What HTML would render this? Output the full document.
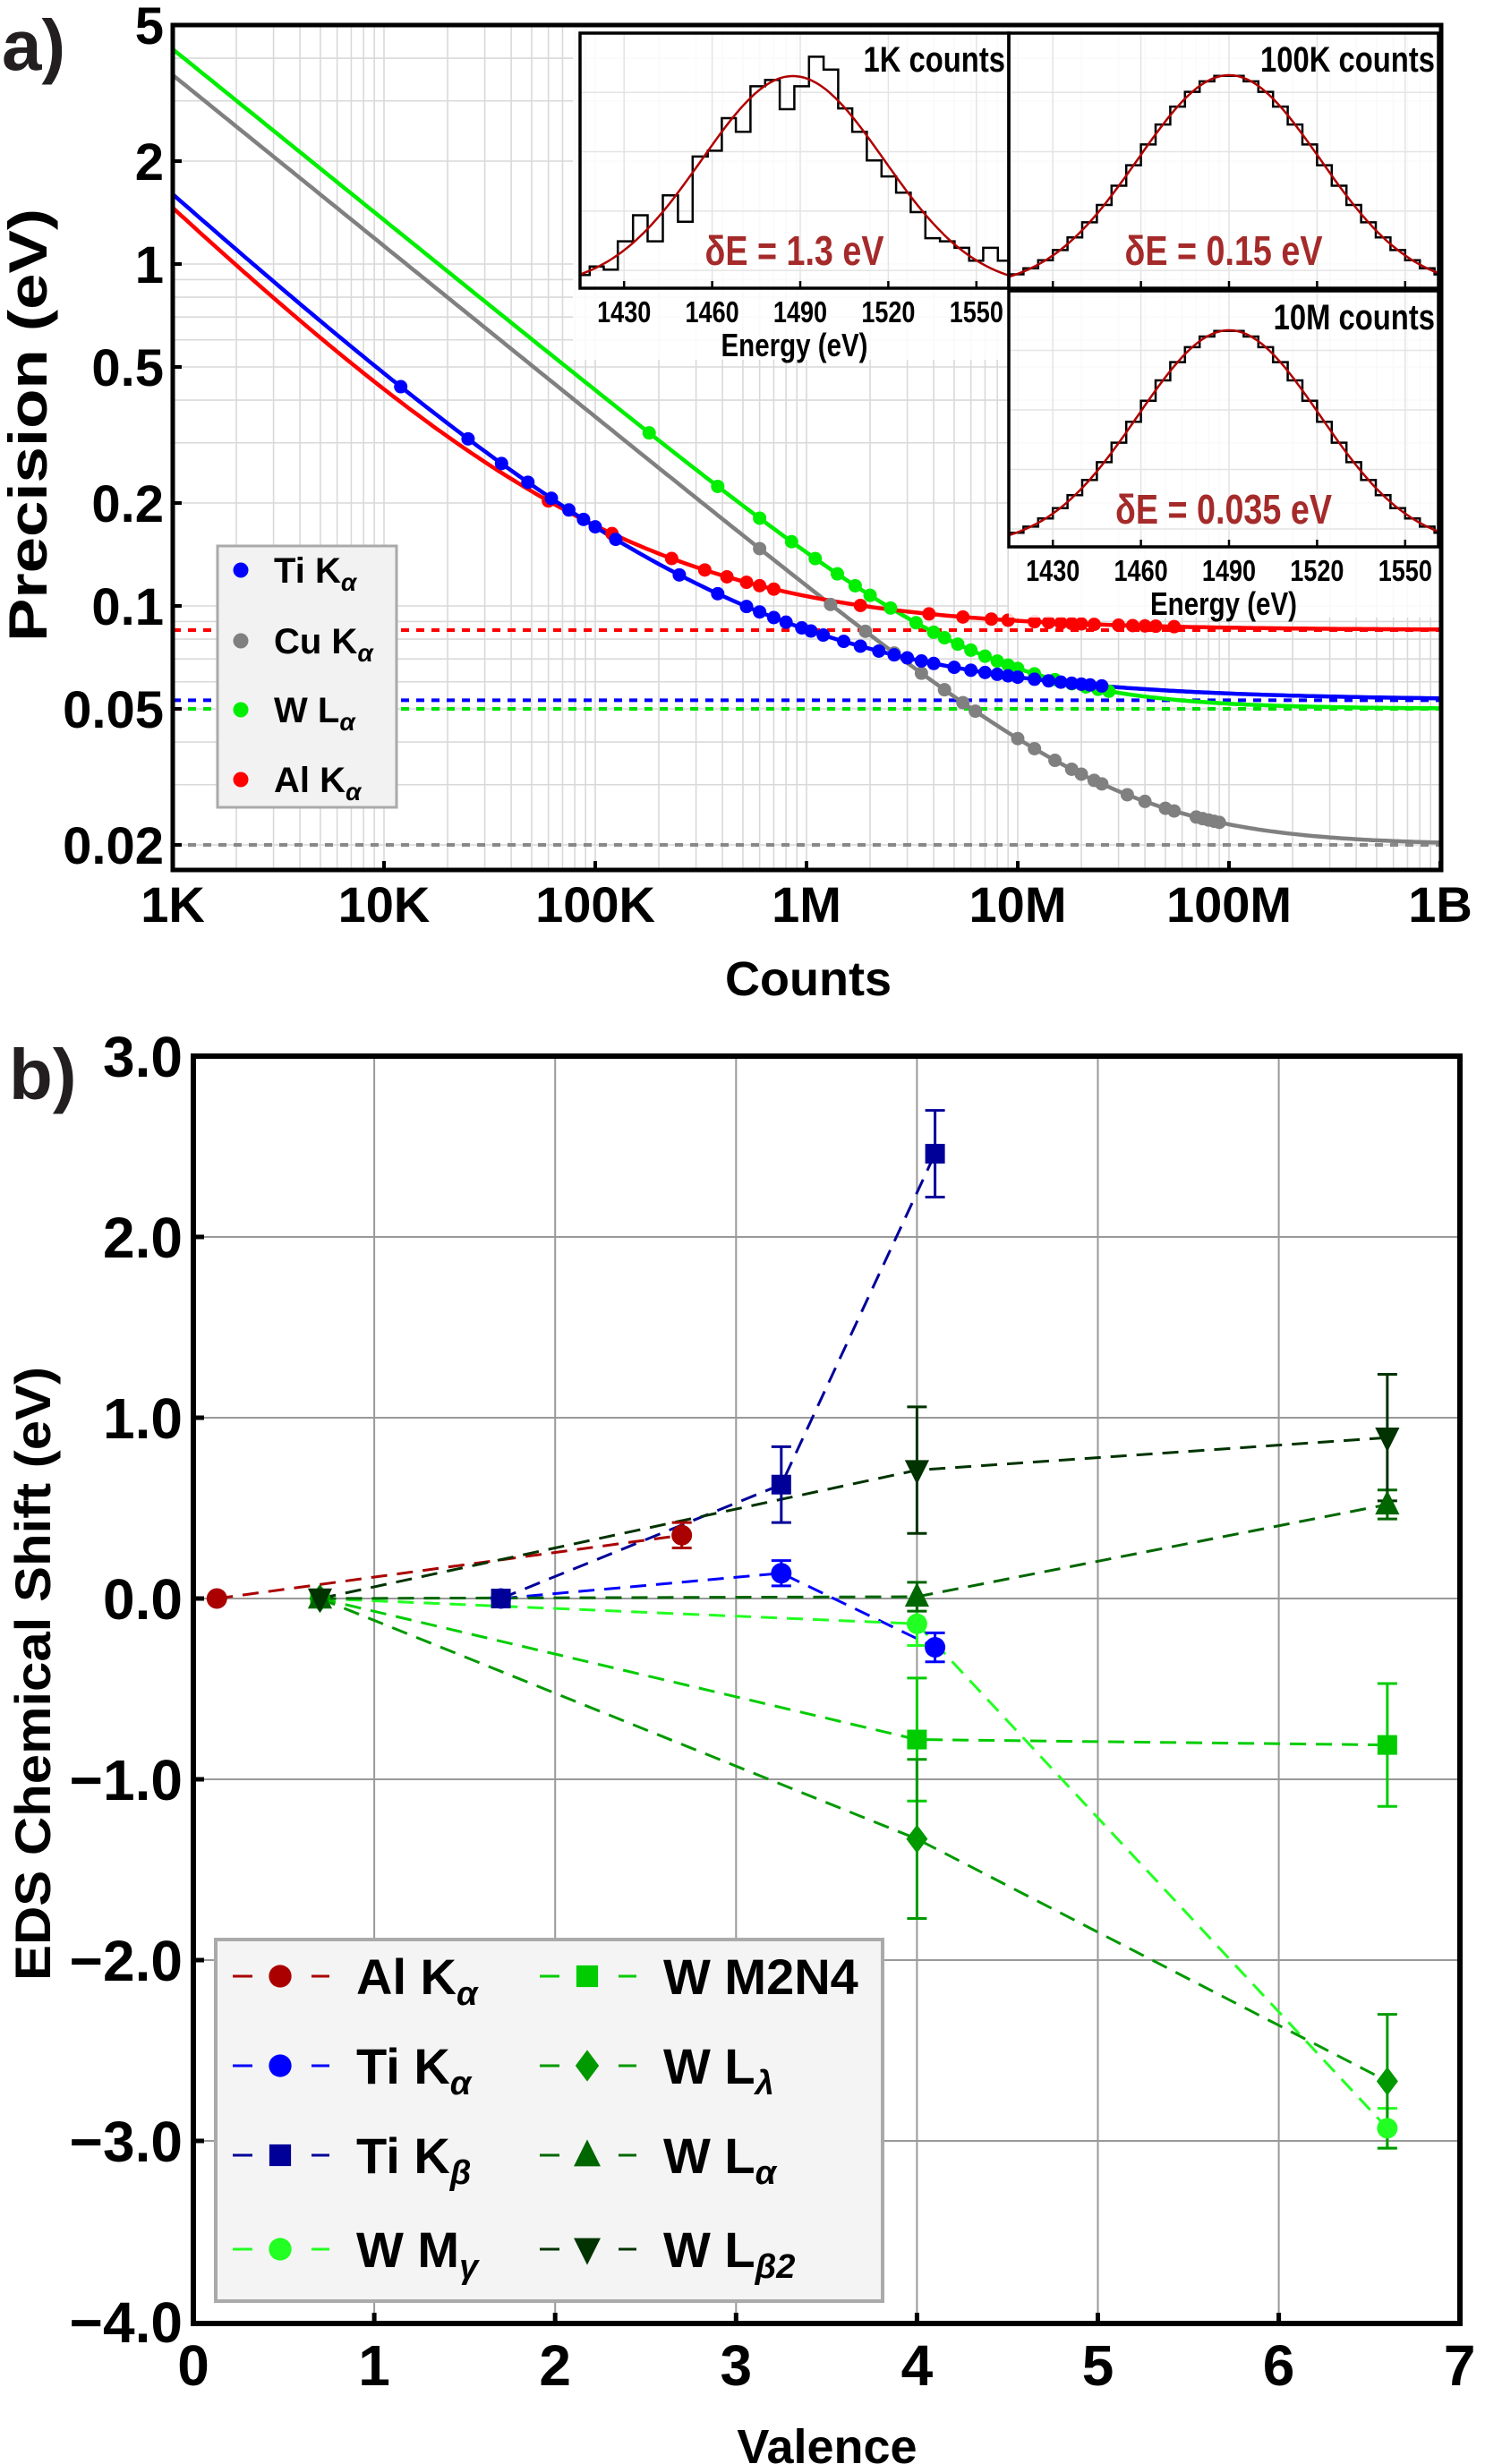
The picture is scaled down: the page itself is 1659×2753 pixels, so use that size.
<!DOCTYPE html>
<html><head><meta charset="utf-8">
<style>
html,body{margin:0;padding:0;background:#fff;}
svg{display:block;}
text{font-family:"Liberation Sans",sans-serif;font-weight:bold;}
</style></head>
<body>
<svg id="s" xmlns="http://www.w3.org/2000/svg" width="1659" height="2753" viewBox="0 0 1659 2753">
<rect width="1659" height="2753" fill="#fff"/>
<defs>
<clipPath id="ca"><rect x="193" y="28" width="1417" height="944"/></clipPath>
<clipPath id="cb"><rect x="216" y="1180" width="1415" height="1416"/></clipPath>
</defs>
<g id="a"></g>
<g id="b"></g>
<text x="2" y="78" font-size="80" fill="#231f20">a)</text>
<text x="10" y="1228" font-size="80" fill="#231f20">b)</text>
<text transform="translate(52,475) rotate(-90)" text-anchor="middle" font-size="60" textLength="484" lengthAdjust="spacingAndGlyphs">Precision (eV)</text>
<text x="903" y="1112" text-anchor="middle" font-size="54">Counts</text>
<text transform="translate(56,1870) rotate(-90)" text-anchor="middle" font-size="56" textLength="686" lengthAdjust="spacingAndGlyphs">EDS Chemical Shift (eV)</text>
<text x="924" y="2752" text-anchor="middle" font-size="54">Valence</text>
</svg>
<script>
var NS="http://www.w3.org/2000/svg";
function E(t,a,p,txt){var e=document.createElementNS(NS,t);for(var k in a)e.setAttribute(k,a[k]);if(txt!==undefined)e.textContent=txt;(p||document.getElementById('s')).appendChild(e);return e;}
var A=document.getElementById('a'),B=document.getElementById('b');
function lg(v){return Math.log(v)/Math.LN10;}
/* ---------- Panel a ---------- */
function X(N){return 193+236*lg(N/1000);}
function Y(P){return 295-382*lg(P);}
var ga=E('g',{'clip-path':'url(#ca)'},A);
for(var d=3;d<=8;d++)for(var m=1;m<=9;m++){var N=m*Math.pow(10,d);var x=X(N);E('line',{x1:x,y1:28,x2:x,y2:972,stroke:'#d9d9d9','stroke-width':1.6},ga);}
[0.01,0.1,1].forEach(function(b){for(var m=1;m<=9;m++){var P=m*b;if(P>5.01)continue;var y=Y(P);E('line',{x1:193,y1:y,x2:1610,y2:y,stroke:'#d9d9d9','stroke-width':1.6},ga);}});
function Ti(N){return 1.547*Math.pow(N/1000,-0.56)+0.053;}
function Al(N){return 1.375*Math.pow(N/1000,-0.6)+0.085;}
function Cu(N){var a=3.57*Math.pow(N/1000,-0.5);return Math.sqrt(a*a+0.0004);}
function W(N){var a=4.25*Math.pow(N/1000,-0.5);return Math.sqrt(a*a+0.0025);}
var hl=[[0.085,'#ff0000'],[0.053,'#0000ff'],[0.050,'#00e000'],[0.02,'#888888']];
hl.forEach(function(h){E('line',{x1:193,y1:Y(h[0]),x2:1610,y2:Y(h[0]),stroke:h[1],'stroke-width':4,'stroke-dasharray':'9,8'},ga);});
function curve(f,c){var s='';for(var i=0;i<=300;i++){var N=1000*Math.pow(10,6*i/300);s+=(i?'L':'M')+X(N).toFixed(1)+','+Y(f(N)).toFixed(1);}E('path',{d:s,fill:'none',stroke:c,'stroke-width':4.5},ga);}
curve(Cu,'#808080');curve(W,'#00ee00');curve(Al,'#ff0000');curve(Ti,'#0000ff');
function pts(f,c,L){L.forEach(function(N){E('circle',{cx:X(N),cy:Y(f(N)),r:7.5,fill:c},ga);});}
pts(Cu,'#808080',[6e5,1.3e6,1.9e6,2.6e6,3.5e6,4.5e6,5.5e6,6.3e6,1e7,1.2e7,1.5e7,1.8e7,2e7,2.3e7,2.5e7,3.3e7,4e7,5e7,5.5e7,7e7,7.5e7,8e7,8.5e7,9e7]);
pts(W,'#00ee00',[1.8e5,3.8e5,6e5,8.5e5,1.1e6,1.4e6,1.7e6,2e6,2.5e6,3.3e6,4e6,4.5e6,5.2e6,6e6,7e6,8e6,9e6,1e7,1.2e7,1.5e7,1.8e7,2.1e7,2.4e7,2.7e7]);
pts(Al,'#ff0000',[6e4,1.2e5,2.3e5,3.3e5,4.2e5,5.2e5,6e5,7e5,1.8e6,3.8e6,5.5e6,7.5e6,9e6,1.2e7,1.4e7,1.6e7,1.8e7,2e7,2.3e7,3e7,3.5e7,4e7,4.5e7,5.5e7]);
pts(Ti,'#0000ff',[1.2e4,2.5e4,3.6e4,4.8e4,6.2e4,7.5e4,8.8e4,1e5,1.25e5,2.5e5,3.8e5,5.2e5,6e5,7e5,8e5,9.5e5,1.05e6,1.2e6,1.5e6,1.8e6,2.2e6,2.6e6,3e6,3.5e6,4e6,5e6,6e6,7e6,8e6,9e6,1e7,1.2e7,1.4e7,1.6e7,1.8e7,2e7,2.2e7,2.5e7]);
/* inset background */
E('path',{d:'M640,30 H1610 V690 H1127 V402 H640 Z',fill:'#fff','fill-opacity':0.85},A);
function sx(x){return 'translate('+x+',0) scale(0.82,1) translate('+(-x)+',0)';}
function inset(x0,y0,w,h,peak,mu,hist,lab,de,showAxis){
  var ex=function(e){return x0+(e-1415)*3.28;};
  var gi=E('g',{},A);
  [1430,1460,1490,1520,1550].forEach(function(e){E('line',{x1:ex(e),y1:y0,x2:ex(e),y2:y0+h,stroke:'#e4e4e4','stroke-width':1.5},gi);});
  for(var k=1;k<5;k++){var yy=y0+h*k/4.3;E('line',{x1:x0,y1:yy,x2:x0+w,y2:yy,stroke:'#e4e4e4','stroke-width':1.5},gi);}
  var bot=y0+h,H=bot-peak;
  var g=function(e){return bot-H*Math.exp(-(e-mu)*(e-mu)/(2*31*31));};
  var s='';
  if(hist){s=hist;}else{
    for(var e=1415;e<1561;e+=5){var v=g(e+2.5);var xa=ex(e),xb=Math.min(ex(e+5),x0+w);s+=(e==1415?'M'+xa+','+v:'V'+v.toFixed(1))+'H'+xb.toFixed(1);}
  }
  E('path',{d:s,fill:'none',stroke:'#000','stroke-width':2.5},gi);
  var c='';for(var i=0;i<=200;i++){var e2=1415+146*i/200;c+=(i?'L':'M')+ex(e2).toFixed(1)+','+g(e2).toFixed(1);}
  E('path',{d:c,fill:'none',stroke:'#b00000','stroke-width':2.5},gi);
  [1430,1460,1490,1520,1550].forEach(function(e){E('line',{x1:ex(e),y1:bot,x2:ex(e),y2:bot-8,stroke:'#000','stroke-width':2.5},gi);
    if(showAxis)E('text',{x:ex(e),y:bot+38,'text-anchor':'middle','font-size':33,transform:sx(ex(e))},gi,String(e));});
  E('rect',{x:x0,y:y0,width:w,height:h,fill:'none',stroke:'#000','stroke-width':3.5},gi);
  var tx=x0+w-4;E('text',{x:tx,y:y0+43,'text-anchor':'end','font-size':40,transform:sx(tx)},gi,lab);
  var cx=x0+w/2;E('text',{x:cx,y:y0+h-26,'text-anchor':'middle','font-size':46,fill:'#a52a2a',transform:sx(cx)},gi,de);
  if(showAxis)E('text',{x:cx,y:bot+76,'text-anchor':'middle','font-size':36,transform:sx(cx)},gi,'Energy (eV)');
}
var ed=[13,30,55,80,107,133,160,187,213,240,265,290,316,342,368,394,420,446,472,497,523,549,575,601,627,653,679,705,730,756,775];
var tp=[662,640,648,575,508,575,457,525,357,342,258,293,176,160,235,176,100,133,233,293,367,408,450,500,567,575,592,625,592,625];
var hs='';for(var i=0;i<tp.length;i++){var xa=640+0.628*ed[i],xb=640+0.628*ed[i+1],yy=20+0.434*tp[i];hs+=(i?'V'+yy.toFixed(1):'M'+xa.toFixed(1)+','+yy.toFixed(1))+'H'+xb.toFixed(1);}
inset(648,37,479,285,85,1487.5,hs,'1K counts','δE = 1.3 eV',true);
inset(1127,37,480,285,84,1490,null,'100K counts','δE = 0.15 eV',false);
inset(1127,325,480,286,369,1490,null,'10M counts','δE = 0.035 eV',true);
/* legend a */
E('rect',{x:243,y:610,width:200,height:292,fill:'#f2f2f2',stroke:'#aaa','stroke-width':3},A);
[['Ti K','#0000ff',637],['Cu K','#808080',716],['W L','#00ee00',793],['Al K','#ff0000',871]].forEach(function(r){
  E('circle',{cx:269,cy:r[2],r:8.5,fill:r[1]},A);
  var t=E('text',{x:306,y:r[2]+14,'font-size':40},A,r[0]);
  E('tspan',{'font-size':28,'font-style':'italic',dy:9},t,'α');
});
E('rect',{x:193,y:28,width:1417,height:944,fill:'none',stroke:'#000','stroke-width':5},A);
[[5,'5'],[2,'2'],[1,'1'],[0.5,'0.5'],[0.2,'0.2'],[0.1,'0.1'],[0.05,'0.05'],[0.02,'0.02']].forEach(function(t){
  var y=Y(t[0]);E('line',{x1:193,y1:y,x2:203,y2:y,stroke:'#000','stroke-width':4},A);
  E('text',{x:183,y:y+21,'text-anchor':'end','font-size':58},A,t[1]);});
[['1K',1e3],['10K',1e4],['100K',1e5],['1M',1e6],['10M',1e7],['100M',1e8],['1B',1e9]].forEach(function(t){
  var x=X(t[1]);E('line',{x1:x,y1:972,x2:x,y2:962,stroke:'#000','stroke-width':4},A);
  E('text',{x:x,y:1030,'text-anchor':'middle','font-size':56},A,t[0]);});
/* ---------- Panel b ---------- */
function VX(v){return 216+202.1*v;}
function VY(s){return 1180+(3-s)*202;}
var gb=E('g',{'clip-path':'url(#cb)'},B);
for(var v=1;v<7;v++)E('line',{x1:VX(v),y1:1180,x2:VX(v),y2:2596,stroke:'#999','stroke-width':2},gb);
for(var s=-3;s<3;s++)E('line',{x1:216,y1:VY(s),x2:1631,y2:VY(s),stroke:'#999','stroke-width':2},gb);
var S=[
 {c:'#aa0000',m:'c',p:[[0.13,0],[2.7,0.35,0.07]]},
 {c:'#0000ff',m:'c',p:[[1.7,0],[3.25,0.14,0.07],[4.1,-0.27,0.08]]},
 {c:'#000099',m:'s',p:[[1.7,0],[3.25,0.63,0.21],[4.1,2.46,0.24]]},
 {c:'#22ff22',m:'c',p:[[0.7,0],[4.0,-0.14,0.12],[6.6,-2.93,0.11]]},
 {c:'#00cc00',m:'s',p:[[0.7,0],[4.0,-0.78,0.34],[6.6,-0.81,0.34]]},
 {c:'#009900',m:'d',p:[[0.7,0],[4.0,-1.33,0.44],[6.6,-2.67,0.37]]},
 {c:'#006600',m:'u',p:[[0.7,0],[4.0,0.01,0.08],[6.6,0.52,0.08]]},
 {c:'#003300',m:'v',p:[[0.7,0],[4.0,0.71,0.35],[6.6,0.89,0.35]]}];
function poly(P){return P.map(function(p,i){return (i?'L':'M')+VX(p[0])+','+VY(p[1]);}).join('');}
function marker(m,x,y,c,g,sc){sc=sc||1;
 if(m=='c')E('circle',{cx:x,cy:y,r:11.5*sc,fill:c},g);
 else if(m=='s')E('rect',{x:x-11*sc,y:y-11*sc,width:22*sc,height:22*sc,fill:c},g);
 else if(m=='d'){var r=16*sc;E('path',{d:'M'+x+','+(y-r)+'L'+(x+r*0.75)+','+y+'L'+x+','+(y+r)+'L'+(x-r*0.75)+','+y+'Z',fill:c},g);}
 else if(m=='u'){var r=16*sc;E('path',{d:'M'+x+','+(y-r)+'L'+(x+r*0.85)+','+(y+r*0.7)+'L'+(x-r*0.85)+','+(y+r*0.7)+'Z',fill:c},g);}
 else {var r=16*sc;E('path',{d:'M'+x+','+(y+r)+'L'+(x+r*0.85)+','+(y-r*0.7)+'L'+(x-r*0.85)+','+(y-r*0.7)+'Z',fill:c},g);}
}
S.forEach(function(se){E('path',{d:poly(se.p),fill:'none',stroke:se.c,'stroke-width':3,'stroke-dasharray':'18,11'},gb);});
S.forEach(function(se){se.p.forEach(function(p){if(p[2]){var x=VX(p[0]),y1=VY(p[1]+p[2]),y2=VY(p[1]-p[2]);
 E('path',{d:'M'+x+','+y1+'V'+y2+'M'+(x-11)+','+y1+'H'+(x+11)+'M'+(x-11)+','+y2+'H'+(x+11),stroke:se.c,'stroke-width':3,fill:'none'},gb);}});});
S.forEach(function(se){se.p.forEach(function(p){marker(se.m,VX(p[0]),VY(p[1]),se.c,gb);});});
E('rect',{x:241,y:2167,width:745,height:404,fill:'#f4f4f4',stroke:'#aaa','stroke-width':4},B);
var LG=[['Al K','α',0,2208],['Ti K','α',1,2308],['Ti K','β',2,2408],['W M','γ',3,2513],['W M2N4','',4,2208],['W L','λ',5,2308],['W L','α',6,2408],['W L','β2',7,2513]];
LG.forEach(function(l,i){var se=S[l[2]],col=i<4?0:1;var xs=col?[603,656,691,741]:[260,313,348,398];var y=l[3];
 E('line',{x1:xs[0],y1:y,x2:xs[0]+22,y2:y,stroke:se.c,'stroke-width':3},B);
 E('line',{x1:xs[2],y1:y,x2:xs[2]+20,y2:y,stroke:se.c,'stroke-width':3},B);
 marker(se.m,xs[1],y,se.c,B,1.1);
 var t=E('text',{x:xs[3],y:y+20,'font-size':56},B,l[0]);
 if(l[1])E('tspan',{'font-size':38,'font-style':'italic',dy:12},t,l[1]);});
E('rect',{x:216,y:1180,width:1415,height:1416,fill:'none',stroke:'#000','stroke-width':6},B);
for(var v=0;v<=7;v++){var x=VX(v);if(v>0&&v<7)E('line',{x1:x,y1:2596,x2:x,y2:2584,stroke:'#000','stroke-width':5},B);
 E('text',{x:x,y:2665,'text-anchor':'middle','font-size':64},B,String(v));}
for(var s=3;s>=-4;s--){var y=VY(s);if(s<3&&s>-4)E('line',{x1:216,y1:y,x2:228,y2:y,stroke:'#000','stroke-width':5},B);
 E('text',{x:204,y:y+23,'text-anchor':'end','font-size':64},B,(s<0?'\u2212':'')+Math.abs(s)+'.0');}
</script>
</body></html>
